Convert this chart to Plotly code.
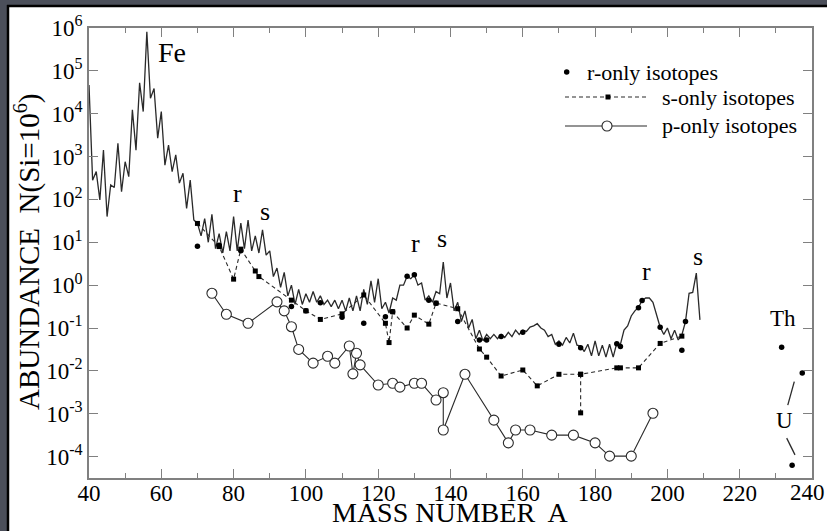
import plotly.graph_objects as go

# ---------------- data (log10 abundance, N(Si)=1e6) ----------------
solar_A = list(range(40, 210))
solar_log = [
    4.67, 2.45, 2.65, 1.99, 3.15, 1.60, 2.34, 2.28, 3.31, 2.18,
    2.88, 2.53, 4.09, 3.15, 4.72, 4.05, 5.91, 4.36, 4.59, 3.43,
    4.05, 2.80, 3.27, 2.65, 3.04, 2.38, 2.61, 1.79, 2.45, 1.52,
    1.44, 1.15, 1.55, 1.00, 1.65, 0.85, 1.20, 0.75, 1.25, 0.80,
    1.60, 0.80, 1.45, 0.85, 1.52, 0.80, 1.15, 0.75, 1.29, 0.70,
    0.80, 0.20, 0.40, -0.05, 0.30, -0.25, 0.00, -0.45, -0.10, -0.45,
    -0.20, -0.40, -0.15, -0.40, -0.25, -0.45, -0.35, -0.50, -0.35, -0.55,
    -0.35, -0.60, -0.30, -0.60, -0.25, -0.60, -0.10, -0.45, 0.10, -0.40,
    0.15, -0.55, -0.40, -0.65, -0.30, -0.35, 0.00, 0.00, 0.21, 0.15,
    0.24, 0.00, 0.05, -0.35, -0.25, -0.40, -0.15, -0.20, 0.54, -0.30,
    0.05, -0.60, -0.40, -0.85, -0.60, -1.00, -0.80, -1.25, -1.05, -1.30,
    -1.15, -1.25, -1.15, -1.25, -1.15, -1.22, -1.10, -1.20, -1.05, -1.15,
    -1.05, -1.08, -0.98, -0.95, -0.90, -1.00, -1.05, -1.20, -1.15, -1.38,
    -1.30, -1.40, -1.22, -1.35, -1.12, -1.40, -1.42, -1.55, -1.38, -1.65,
    -1.30, -1.65, -1.40, -1.68, -1.38, -1.68, -1.35, -1.38, -1.05, -0.95,
    -0.72, -0.60, -0.52, -0.36, -0.30, -0.30, -0.40, -0.70, -0.98, -1.15,
    -1.00, -1.25, -1.05, -1.28, -1.16, -0.85, -0.19, -0.17, 0.28, -0.81,
]

s_only_A = [70, 76, 80, 82, 86, 87, 96, 100, 104, 110, 116, 122, 123, 124, 128, 130,
            134, 136, 142, 148, 150, 154, 160, 164, 170, 176, 176, 186, 187, 192, 198, 204]
s_only_log = [1.44, 0.90, 0.14, 0.84, 0.33, 0.20, -0.35, -0.60, -0.80, -0.67, -0.23,
              -0.89, -1.34, -0.62, -1.00, -0.70, -0.91, -0.42, -0.55, -1.49, -1.68,
              -2.12, -1.98, -2.35, -2.08, -2.08, -2.98, -1.93, -1.93, -1.93, -1.36, -1.19]
s_branch_index = 26   # 176Lu, hangs below 176Hf (index 25)

r_only_A = [70, 76, 82, 96, 100, 104, 110, 116, 122, 124, 128, 130, 134, 136, 142,
            148, 150, 154, 160, 170, 176, 186, 187, 192, 193, 198, 204, 205,
            231.6, 234.5, 237.3]
r_only_log = [0.91, 0.93, 0.80, -0.50, -0.60, -0.41, -0.75, -0.89, -0.74, -0.62, 0.21,
              0.24, -0.35, -0.42, -0.85, -1.28, -1.28, -1.20, -1.10, -1.38, -1.46,
              -1.37, -1.43, -0.53, -0.36, -0.98, -1.52, -0.85,
              -1.45, -4.20, -2.05]

p_only_A = [74, 78, 84, 92, 94, 96, 98, 102, 106, 108, 112, 113, 114, 115, 120, 124,
            126, 130, 132, 136, 138, 138, 144, 152, 156, 158, 162, 168, 174, 180, 184,
            190, 196]
p_only_log = [-0.19, -0.68, -0.89, -0.39, -0.60, -0.97, -1.50, -1.82, -1.66, -1.82,
              -1.42, -2.07, -1.59, -1.86, -2.33, -2.29, -2.38, -2.29, -2.29, -2.68,
              -2.51, -3.38, -2.08, -3.15, -3.68, -3.38, -3.38, -3.50, -3.50, -3.68,
              -3.99, -3.99, -2.99]

x_tick_vals = list(range(40, 241, 20))
x_tick_text = [str(v) for v in x_tick_vals[:-1]] + [""]   # last label drawn separately
y_tick_vals = list(range(-4, 7))
y_tick_text = ["10<sup>%d</sup>" % k for k in y_tick_vals]

legend_labels = ["r-only isotopes", "s-only isotopes", "p-only isotopes"]

# ---------------- figure ----------------
W, H = 827, 531
L, R, T, B = 89, 812, 28, 478   # plot area in pixels
INK = "#2a2a2a"
AXC = "#808080"
FONT = "Liberation Serif"
pw, ph = R - L, B - T


def px(xp):
    return (xp - L) / pw


def py(yp):
    return (B - yp) / ph


fig = go.Figure()

fig.add_trace(go.Scatter(x=solar_A, y=solar_log, mode="lines",
                         line=dict(color=INK, width=1.3), hoverinfo="skip"))

s_main_A = [a for i, a in enumerate(s_only_A) if i != s_branch_index]
s_main_y = [v for i, v in enumerate(s_only_log) if i != s_branch_index]
fig.add_trace(go.Scatter(x=s_main_A, y=s_main_y, mode="lines+markers",
                         line=dict(color=INK, width=1.1, dash="4px,3px"),
                         marker=dict(symbol="square", size=5, color="black")))
fig.add_trace(go.Scatter(x=[s_only_A[s_branch_index - 1], s_only_A[s_branch_index]],
                         y=[s_only_log[s_branch_index - 1], s_only_log[s_branch_index]],
                         mode="lines+markers",
                         line=dict(color=INK, width=1.1, dash="4px,3px"),
                         marker=dict(symbol="square", size=5, color="black")))

fig.add_trace(go.Scatter(x=r_only_A, y=r_only_log, mode="markers",
                         marker=dict(symbol="circle", size=5.5, color="black")))

fig.add_trace(go.Scatter(x=p_only_A, y=p_only_log, mode="lines+markers",
                         line=dict(color=INK, width=1.1),
                         marker=dict(symbol="circle", size=10, color="white",
                                     line=dict(color=INK, width=1.1))))

# U slashes
fig.add_trace(go.Scatter(x=[235.1, 233.3], y=[-2.25, -2.80], mode="lines",
                         line=dict(color=INK, width=1.3)))
fig.add_trace(go.Scatter(x=[233.0, 235.3], y=[-3.57, -3.96], mode="lines",
                         line=dict(color=INK, width=1.3)))

# ---------------- legend drawn in pixel overlay ----------------
fig.add_trace(go.Scatter(x=[566.7], y=[72], xaxis="x2", yaxis="y2", mode="markers",
                         marker=dict(symbol="circle", size=5.5, color="black")))
fig.add_trace(go.Scatter(x=[565, 608, 647], y=[97, 97, 97], xaxis="x2", yaxis="y2",
                         mode="lines", line=dict(color=INK, width=1.1, dash="4px,3px")))
fig.add_trace(go.Scatter(x=[608], y=[97], xaxis="x2", yaxis="y2", mode="markers",
                         marker=dict(symbol="square", size=5, color="black")))
fig.add_trace(go.Scatter(x=[565, 607, 647], y=[126, 126, 126], xaxis="x2", yaxis="y2",
                         mode="lines", line=dict(color=INK, width=1.1)))
fig.add_trace(go.Scatter(x=[607], y=[126], xaxis="x2", yaxis="y2", mode="markers",
                         marker=dict(symbol="circle", size=10, color="white",
                                     line=dict(color=INK, width=1.1))))

annotations = []
for txt, x, y in zip(legend_labels, [585, 660, 660], [72, 97, 125]):
    annotations.append(dict(text=txt, x=x, y=y, xref="x2", yref="y2", showarrow=False,
                            xanchor="left", yanchor="middle",
                            font=dict(family=FONT, size=22, color="black")))

labels = [("Fe", 63.0, 5.42, 28), ("r", 81.2, 2.15, 26), ("s", 88.7, 1.71, 26),
          ("r", 130.2, 0.98, 26), ("s", 137.6, 1.08, 26), ("r", 194.1, 0.31, 26),
          ("s", 208.5, 0.68, 26), ("Th", 232.0, -0.77, 23), ("U", 232.5, -3.15, 23)]
for txt, x, y, sz in labels:
    annotations.append(dict(text=txt, x=x, y=y, xref="x", yref="y", showarrow=False,
                            xanchor="center", yanchor="middle",
                            font=dict(family=FONT, size=sz, color="black")))

# last x tick label, kept inside the page
annotations.append(dict(text=str(x_tick_vals[-1]), x=px(W), y=py(492), xref="paper",
                        yref="paper", showarrow=False, xanchor="right", yanchor="middle",
                        font=dict(family=FONT, size=23, color="black")))

annotations.append(dict(text="MASS NUMBER&nbsp; A", x=px(450), y=py(H - 1),
                        xref="paper", yref="paper", showarrow=False,
                        xanchor="center", yanchor="bottom",
                        font=dict(family=FONT, size=28, color="black")))
annotations.append(dict(text="ABUNDANCE&nbsp; N(Si=10<sup>6</sup>)", x=px(27),
                        y=py(252), xref="paper", yref="paper", showarrow=False,
                        textangle=-90, xanchor="center", yanchor="middle",
                        font=dict(family=FONT, size=29, color="black")))

# white panel with black top/left border
shapes = [
    dict(type="rect", xref="paper", yref="paper", x0=px(8), x1=px(W + 30),
         y0=py(H + 30), y1=py(6),
         fillcolor="white", line=dict(width=0), layer="below"),
    dict(type="line", xref="paper", yref="paper", x0=px(7), x1=px(W + 30), y0=py(6),
         y1=py(6), line=dict(color="black", width=2.5), layer="below"),
    dict(type="line", xref="paper", yref="paper", x0=px(8), x1=px(8), y0=py(H + 30),
         y1=py(5), line=dict(color="black", width=2.5), layer="below"),
]

axis_common = dict(showline=True, linecolor=AXC, linewidth=1.5, mirror="ticks",
                   ticks="inside", tickcolor=AXC, tickwidth=1.3, showgrid=False,
                   zeroline=False, tickfont=dict(family=FONT, size=23, color="black"))

fig.update_layout(
    width=W, height=H,
    margin=dict(l=L, r=W - R, t=T, b=H - B, pad=0),
    paper_bgcolor="#4b4f5a", plot_bgcolor="white",
    showlegend=False,
    xaxis=dict(range=[40, 240], tickvals=x_tick_vals, ticktext=x_tick_text, ticklen=9,
               ticklabelstandoff=-6,
               minor=dict(dtick=10, tick0=40, ticks="inside", ticklen=5,
                          tickcolor=AXC, tickwidth=1.2, showgrid=False),
               **axis_common),
    yaxis=dict(range=[-4.5, 6], tickvals=y_tick_vals, ticktext=y_tick_text, ticklen=9,
               **axis_common),
    xaxis2=dict(range=[L, R], overlaying="x", visible=False, fixedrange=True),
    yaxis2=dict(range=[B, T], overlaying="y", visible=False, fixedrange=True),
    annotations=annotations, shapes=shapes,
)

fig.write_html(
    "out.html",
    config={"responsive": False, "displayModeBar": False},
    post_script="document.documentElement.style.overflow='hidden';"
                "document.body.style.overflow='hidden';document.body.style.margin='0';",
)
